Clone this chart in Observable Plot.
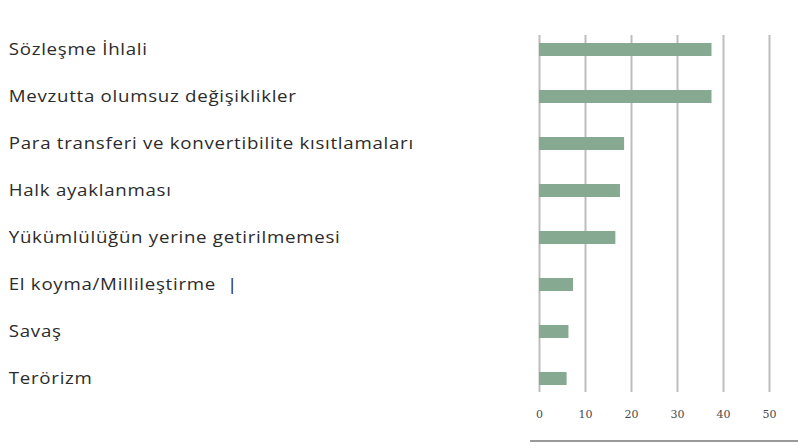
<!DOCTYPE html>
<html>
<head>
<meta charset="utf-8">
<script src="https://cdn.jsdelivr.net/npm/d3@7"></script>
<script src="https://cdn.jsdelivr.net/npm/@observablehq/plot@0.6"></script>
<style>
  html, body { margin: 0; padding: 0; background: #fff; }
  #wrap { position: relative; width: 798px; height: 448px; }
  #baseline { position: absolute; left: 530px; top: 440px; width: 268px; height: 2px; background: #9a9a9a; }
  .cat-labels text { letter-spacing: 0.6px; }
</style>
</head>
<body>
<div id="wrap"><div id="baseline"></div></div>
<script>
const categories = [
  "Sözleşme İhlali",
  "Mevzutta olumsuz değişiklikler",
  "Para transferi ve konvertibilite kısıtlamaları",
  "Halk ayaklanması",
  "Yükümlülüğün yerine getirilmemesi",
  "El koyma/Millileştirme",
  "Savaş",
  "Terörizm"
];
const values = [37.5, 37.5, 18.5, 17.6, 16.6, 7.4, 6.4, 6.0];
const labelSuffix = ["", "", "", "", "", "  |", "", ""];
const xTicks = [0, 10, 20, 30, 40, 50];

const data = categories.map((c, i) => ({category: c, value: values[i], label: c + labelSuffix[i]}));

const chart = Plot.plot({
  width: 798,
  height: 448,
  marginLeft: 539,
  marginRight: 29,
  marginTop: 35,
  marginBottom: 56,
  style: {fontFamily: "'Open Sans', sans-serif", background: "#fff"},
  x: {domain: [0, 50], ticks: xTicks},
  y: {domain: categories, paddingInner: 0.725, paddingOuter: 0.15, axis: null},
  marks: [
    Plot.ruleX(xTicks, {stroke: "#bdbdbd", strokeWidth: 2}),
    Plot.barX(data, {x: "value", y: "category", fill: "#86a991"}),
    Plot.axisX({ticks: xTicks, tickSize: 0, tickPadding: 18, fontSize: 11, fill: "#4a4a4a", label: null, fontFamily: "Georgia, 'DejaVu Serif', serif"}),
    Plot.text(data, {y: "category", text: "label", frameAnchor: "left", textAnchor: "start", dx: -532, fontSize: 16, fill: "#2b2b2b", className: "cat-labels"})
  ]
});
// stretch the category labels horizontally, like the (widened) original
const g = d3.select(chart).select("g.cat-labels");
g.attr("transform", "scale(1.17,1) " + (g.attr("transform") || ""));
document.getElementById("wrap").prepend(chart);
</script>
</body>
</html>
